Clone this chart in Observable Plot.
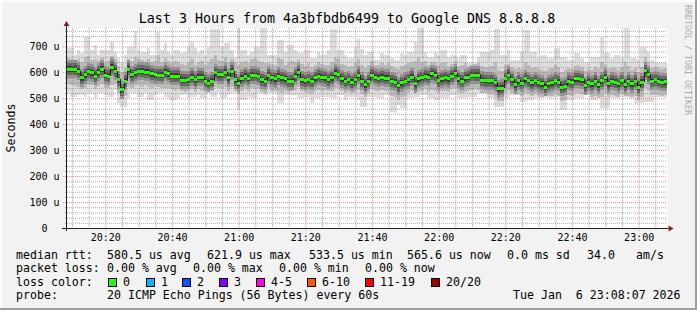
<!DOCTYPE html>
<html><head><meta charset="utf-8">
<script src="https://cdn.jsdelivr.net/npm/d3@7"></script>
<script src="https://cdn.jsdelivr.net/npm/@observablehq/plot@0.6"></script>
<style>
html,body{margin:0;padding:0;background:#f2f2f2;}
svg{display:block;}
svg text{font-family:"DejaVu Sans Mono",monospace;white-space:pre;}
</style></head><body>
<script>
// ---- data (one value per 1-minute step, microseconds) ----
const median = [
613,613,613,606,582,592,605,600,587,602,
613,590,587,622,606,574,534,568,613,592,
600,606,606,602,602,596,592,590,590,602,
596,587,587,587,572,572,574,583,574,583,
583,568,560,568,600,592,592,602,581,606,
574,560,579,587,579,590,590,587,574,568,
590,581,577,587,581,577,568,568,587,602,
574,569,574,568,581,587,583,581,574,581,
598,593,577,568,574,564,574,590,567,555,
568,590,583,579,583,579,579,568,564,551,
562,568,574,583,558,577,581,587,583,596,
590,570,577,581,577,587,598,577,568,581,
583,590,590,590,572,570,570,570,562,538,
540,577,590,574,555,570,560,577,570,562,
570,562,558,545,558,562,570,564,545,549,
568,564,577,577,574,551,564,558,568,555,
570,583,558,568,564,558,570,555,568,558,
568,545,564,608,593,568,574,568,564,566];
const maxRtt = [
692,692,667,686,673,737,737,686,705,667,
686,686,686,718,679,654,641,667,699,699,
760,686,679,679,692,667,667,756,686,712,
679,667,686,686,673,679,699,718,692,673,
686,667,699,769,769,769,699,712,712,686,
660,771,686,686,667,679,699,699,770,770,
667,667,667,724,724,679,705,705,686,679,
673,686,686,654,654,679,667,667,686,769,
769,686,686,667,654,654,699,730,690,667,
679,679,647,647,673,667,667,654,647,647,
673,667,679,679,718,771,771,679,660,660,
679,667,686,686,660,667,667,654,667,667,
635,635,635,660,679,679,679,686,769,769,
667,667,686,647,647,647,679,762,762,679,
679,654,667,667,654,654,692,692,660,660,
647,647,673,673,654,641,641,660,660,660,
737,673,673,654,667,667,654,771,771,654,
654,647,699,699,679,647,641,635,635,641];
const minRtt = [
519,506,506,513,513,506,519,519,500,519,
519,513,506,506,532,481,468,468,500,519,
519,506,506,519,494,494,513,519,519,506,
500,494,494,500,513,513,500,506,506,513,
500,500,519,506,506,519,500,500,513,519,
519,455,494,494,506,500,500,519,519,513,
519,519,519,481,481,513,513,513,513,500,
500,506,506,481,500,500,506,506,506,500,
500,513,513,494,506,506,506,494,468,468,
506,506,506,500,500,513,513,449,442,474,
462,462,500,500,506,506,513,513,500,500,
494,494,500,500,500,513,513,500,500,500,
506,506,506,519,519,519,500,500,468,468,
468,500,500,513,513,513,487,487,494,494,
500,500,500,506,500,500,506,506,455,455,
494,494,500,500,500,513,513,494,494,500,
462,462,462,500,500,500,506,506,500,500,
481,481,481,487,487,487,506,506,506,500];
const hiMid = [
655,650,648,652,640,660,662,648,650,645,
655,640,645,662,650,625,600,615,652,645,
660,650,648,645,652,640,645,665,640,655,
645,638,645,640,632,630,640,650,630,640,
645,628,640,650,665,648,645,660,640,650,
640,630,640,645,635,650,655,645,640,635,
635,632,630,655,650,630,640,642,640,648,
632,625,635,620,628,640,632,630,628,640,
660,650,632,628,620,625,640,650,628,615,
630,642,630,628,635,630,635,625,618,612,
625,628,635,640,645,660,640,645,630,640,
640,628,635,640,625,632,645,625,628,635,
625,630,632,635,625,620,622,625,640,610,
605,628,632,620,612,618,612,640,628,615,
622,612,610,605,612,615,628,622,600,608,
615,612,625,630,620,605,612,610,620,612,
640,630,612,618,615,610,622,640,625,610,
618,600,620,660,640,615,620,615,612,615];
const loMid = [
555,550,548,545,535,540,552,550,535,548,
555,540,538,550,555,520,500,510,545,540,
548,550,545,552,545,540,548,545,538,540,
540,535,530,535,528,525,530,535,525,535,
530,525,525,528,545,540,538,545,530,545,
530,515,528,535,530,540,535,538,525,520,
538,530,530,525,520,530,525,528,532,545,
530,525,522,515,528,532,528,532,530,528,
540,538,528,522,525,520,525,532,515,505,
520,535,530,528,532,530,530,510,505,495,
505,510,522,530,520,525,530,535,525,532,
530,520,528,530,525,535,540,525,520,525,
530,532,535,532,520,522,515,515,505,490,
490,520,530,520,516,515,510,520,515,510,
515,510,505,510,508,510,515,510,490,495,
512,510,520,520,515,518,518,505,510,500,
505,520,505,512,510,505,515,510,510,505,
510,495,505,540,530,512,515,512,510,512];
const yTicks = [0,100,200,300,400,500,600,700];
const xTickLabels = ["20:20","20:40","21:00","21:20","21:40","22:00","22:20","22:40","23:00"];
const lossLabels = ["0","1","2","3","4-5","6-10","11-19","20/20"];
const lossColors = ["#26ff00","#00b8ff","#0059ff","#7e00ff","#ff00ea","#ff5500","#ff0000","#a10000"];
const titleText = "Last 3 Hours from 4a3bfbdb6499 to Google DNS 8.8.8.8";
const statsMedian = ["median rtt:","580.5 us avg","621.9 us max","533.5 us min","565.6 us now","0.0 ms sd","34.0","am/s"];
const statsLoss = ["packet loss:","0.00 % avg","0.00 % max","0.00 % min","0.00 % now"];
const probeText = ["probe:","20 ICMP Echo Pings (56 Bytes) every 60s","Tue Jan  6 23:08:07 2026"];

// ---- build ----
const MIN = 60000;
const start = Date.UTC(2026,0,6,20,8,30);
const end = start + 180*MIN;
const steps = median.map((m,i)=>({
  t1:new Date(start+i*MIN), t2:new Date(start+(i+1)*MIN),
  med:m, prev: i>0 ? median[i-1] : m,
  max:maxRtt[i], min:minRtt[i], hi:hiMid[i], lo:loMid[i]
}));
const xTicks = xTickLabels.map(s=>{const [h,m]=s.split(":").map(Number);return new Date(Date.UTC(2026,0,6,h,m));});
const minorX = d3.utcMinute.every(5).range(new Date(start), new Date(end)).filter(d=>d.getUTCMinutes()%20!==0);
const minorY = d3.range(20,771,20).filter(v=>v%100!==0);
const majorY = yTicks.filter(v=>v>0);

const gridGrey = "rgba(143,143,143,0.75)";
const gridRed = "rgba(222,79,79,0.6)";

const svg = Plot.plot({
  width:697, height:310,
  marginLeft:67, marginRight:30, marginTop:28, marginBottom:82,
  style:{background:"transparent", fontFamily:"DejaVu Sans Mono", fontSize:"10px", color:"black", overflow:"visible"},
  x:{type:"utc", domain:[new Date(start), new Date(end)]},
  y:{domain:[0,771]},
  marks:[
    Plot.frame({fill:"white", stroke:null}),
    Plot.rect(steps,{x1:"t1",x2:"t2",y1:"min",y2:"max",fill:"#dddddd",shapeRendering:"crispEdges"}),
    Plot.rect(steps,{x1:"t1",x2:"t2",y1:"lo",y2:"hi",fill:"#bababa",shapeRendering:"crispEdges"}),
    Plot.ruleY(steps,{x1:"t1",x2:"t2",y:"med",stroke:"#949494",strokeWidth:18,shapeRendering:"crispEdges"}),
    Plot.ruleY(steps,{x1:"t1",x2:"t2",y:"med",stroke:"#666666",strokeWidth:12,shapeRendering:"crispEdges"}),
    Plot.ruleY(steps,{x1:"t1",x2:"t2",y:"med",stroke:"#3c3c3c",strokeWidth:6,shapeRendering:"crispEdges"}),
    // grid
    Plot.ruleY(minorY,{stroke:gridGrey,strokeDasharray:"1,1",insetLeft:-2,ariaLabel:"hgrid"}),
    Plot.ruleX(minorX,{stroke:gridGrey,strokeDasharray:"1,1",insetBottom:-2,ariaLabel:"vgrid"}),
    Plot.ruleY(majorY,{stroke:gridRed,strokeDasharray:"1,1",insetLeft:-4,ariaLabel:"hgrid"}),
    Plot.ruleX(xTicks,{stroke:gridRed,strokeDasharray:"1,1",insetBottom:-3,ariaLabel:"vgrid"}),
    // median
    Plot.ruleX(steps.slice(1),{x:"t1",y1:"prev",y2:"med",stroke:"#202020",strokeWidth:1,shapeRendering:"crispEdges"}),
    Plot.ruleY(steps,{x1:"t1",x2:"t2",y:"med",stroke:lossColors[0],strokeWidth:3,shapeRendering:"crispEdges"}),
    // axes
    Plot.ruleY([0],{stroke:"#1f1f1f",insetLeft:-5,insetRight:-1,shapeRendering:"crispEdges"}),
    Plot.axisY(yTicks,{tickSize:0,tickPadding:8,tickFormat:d=>d===0?"0\u00a0\u00a0":d+" u",fontSize:10}),
    Plot.axisX(xTicks,{tickSize:0,tickPadding:5,tickFormat:d3.utcFormat("%H:%M"),fontSize:10})
  ]
});

const s = d3.select(svg);
// snap grid lines to pixel centres
s.selectAll('g[aria-label="vgrid"]').attr("transform",null).selectAll("line").each(function(){
  const v = Math.floor(+this.getAttribute("x1"))+0.5; this.setAttribute("x1",v); this.setAttribute("x2",v);
});
s.selectAll('g[aria-label="hgrid"]').attr("transform",null).selectAll("line").each(function(){
  const v = Math.floor(+this.getAttribute("y1"))+0.5; this.setAttribute("y1",v); this.setAttribute("y2",v);
});
const X = svg.scale("x"), Y = svg.scale("y");
const x0 = X.apply(new Date(start)), x1 = X.apply(new Date(end));
const yb = Y.apply(0), yt = Y.apply(771);
// background + borders
s.insert("rect",":first-child").attr("x",0).attr("y",0).attr("width",697).attr("height",310).attr("fill","#f2f2f2");
s.append("rect").attr("x",0).attr("y",0).attr("width",697).attr("height",2).attr("fill","#fcfcfc");
s.append("rect").attr("x",0).attr("y",0).attr("width",2).attr("height",310).attr("fill","#fcfcfc");
s.append("rect").attr("x",0).attr("y",308).attr("width",697).attr("height",2).attr("fill","#9e9e9e");
s.append("rect").attr("x",695).attr("y",0).attr("width",2).attr("height",310).attr("fill","#9e9e9e");
// y axis line and arrows
s.append("line").attr("x1",x0-0.5).attr("x2",x0-0.5).attr("y1",yb+3).attr("y2",yt-2).attr("stroke","#1f1f1f");
s.append("path").attr("d",`M${x0-0.5},${yt-7}L${x0-3.5},${yt-2}L${x0+2.5},${yt-2}Z`).attr("fill","#801f1f");
s.append("path").attr("d",`M${x1+6.5},${yb+0.5}L${x1+1.5},${yb-2.5}L${x1+1.5},${yb+3.5}Z`).attr("fill","#801f1f");
// title
s.append("text").attr("x",347).attr("y",22.5).attr("text-anchor","middle").attr("font-size","13.3px").attr("fill","#000").text(titleText);
// y label
s.append("text").attr("transform","translate(15,128) rotate(-90)").attr("text-anchor","middle").attr("font-size","11.6px").attr("fill","#000").text("Seconds");
// watermark
s.append("text").attr("transform","translate(684.5,60) rotate(90)").attr("text-anchor","middle").attr("font-size","8.3px").attr("fill","#aaaaaa").text("RRDTOOL / TOBI OETIKER");
// legend
const fs = "11.6px";
function row(texts, xs, y){ texts.forEach((t,i)=>s.append("text").attr("x",xs[i]).attr("y",y).attr("text-anchor","start").attr("font-size",fs).attr("fill","#000").text(t)); }
row(statsMedian,[16,107,207,309,407,507,587,636],258.5);
row(statsLoss,[16,107,193,279,365],272);
row(["loss color:"],[16],285.5);
const boxX = [108,146,182,219,256,307,365,431];
lossLabels.forEach((l,i)=>{
  s.append("rect").attr("x",boxX[i]+0.5).attr("y",278.5).attr("width",8).attr("height",8).attr("fill",lossColors[i]).attr("stroke","#000").attr("stroke-width",1);
  s.append("text").attr("x",boxX[i]+15).attr("y",285.5).attr("text-anchor","start").attr("font-size",fs).attr("fill","#000").text(l);
});
row(probeText,[16,107,513],299);
document.body.appendChild(svg);
</script>
</body></html>
